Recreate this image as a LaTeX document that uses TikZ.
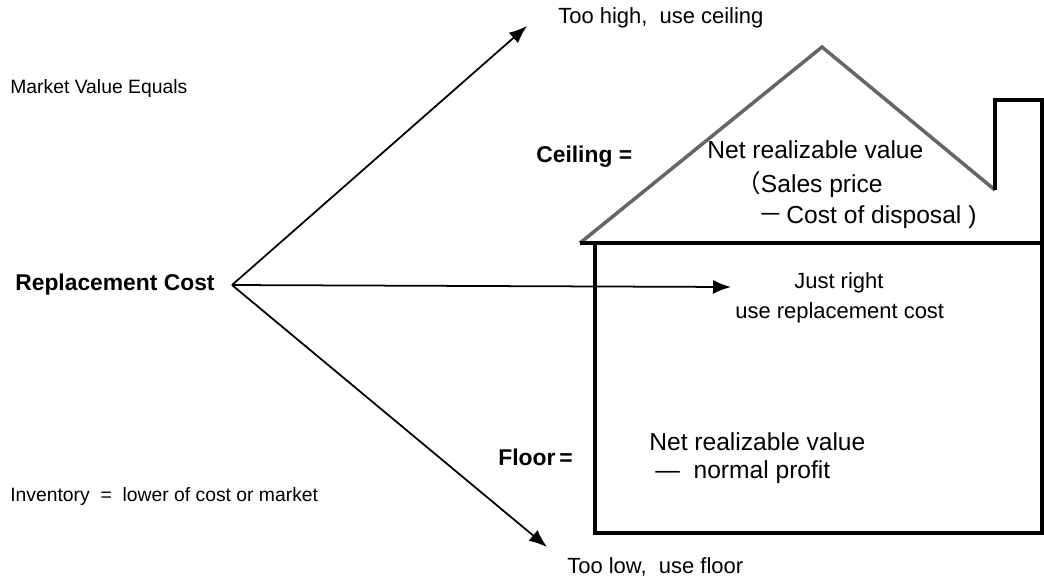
\documentclass[tikz,border=0pt]{standalone}
\usepackage{fontspec}
\setmainfont{Liberation Sans}
\newfontfamily\cjk{Noto Sans CJK SC}
\usetikzlibrary{arrows.meta}

\tikzset{
  txt/.style={inner sep=0pt, anchor=west, font=\fontsize{12.5}{15}\selectfont},
  small/.style={txt, font=\fontsize{11}{13}\selectfont},
  big/.style={txt, font=\fontsize{14}{17}\selectfont},
  bold/.style={txt, font=\fontsize{13}{15}\selectfont\bfseries},
  choice/.style={line width=1pt, -{Latex[length=3.6mm,width=2.8mm]}},
  wall/.style={line width=1.8pt, black},
  roof/.style={line width=2pt, black!60, line join=miter}
}

\begin{document}
\begin{tikzpicture}[x=0.02cm,y=-0.02cm]
				\useasboundingbox (0,0) rectangle (1044,583);
				
				% Left texts
				\node[small] (mve) at (10, 88) {Market Value Equals};
				\node[bold] (rc) at (15, 285) {Replacement Cost};
				\node[small] (inv) at (10, 496) {Inventory\ \ =\ \ lower of cost or market};
				
				% House
				\coordinate (eave) at (580, 243);
				\coordinate (peak) at (822, 47);
				\coordinate (chim) at (995, 190);
				\draw[roof] (eave) -- (peak) -- (chim);
				\draw[wall] (chim) -- (995, 100) -- (1042, 100) -- (1042, 533) -- (595, 533) -- (595, 243);
				\draw[wall] (580, 243) -- (1042, 243); % ceiling line
				
				% Labels on the house
				\node[bold] (ceil) at (536, 157) {Ceiling =};
				\node[big] (nrv1) at (707, 150) {Net realizable value};
				\node[big] (sales) at (736, 185) {{\cjk （}Sales price};
				\node[big] (disp) at (758, 217) {{\cjk －}\kern2pt Cost of disposal )};
				\node[bold] (floor) at (498, 457) {Floor\,=};
				\node[big] (nrv2) at (649, 442) {Net realizable value};
				\node[big] (prof) at (655, 472) {\textemdash\ \ normal profit};
				
				% Outcomes
				\node[txt] (high) at (558, 18) {Too high,\ \ use ceiling};
				\node[txt] (right1) at (794, 283) {Just right};
				\node[txt] (right2) at (735, 313) {use replacement cost};
				\node[txt] (low) at (567, 567) {Too low,\ \ use floor};
				
				% Arrows from replacement cost
				\coordinate (src) at (232, 285);
				\coordinate (uptip) at (527, 26);
				\coordinate (midtip) at (731, 287);
				\coordinate (lowtip) at (547, 547);
				\draw[choice] (src) -- (uptip);
				\draw[choice] (src) -- (midtip);
				\draw[choice] (src) -- (lowtip);
			\end{tikzpicture}
\end{document}
